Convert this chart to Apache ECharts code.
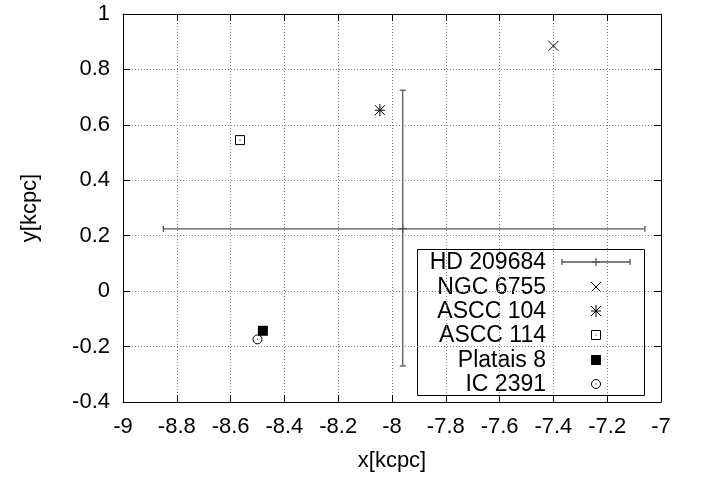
<!DOCTYPE html>
<html><head><meta charset="utf-8">
<script src="https://cdn.jsdelivr.net/npm/echarts@6/dist/echarts.min.js"></script>
<style>html,body{margin:0;padding:0;background:#fff}#c{width:702px;height:478px}</style>
</head><body><div id="c"></div>
<script>
// ---- data ----
const xTickLabels = ['-9','-8.8','-8.6','-8.4','-8.2','-8','-7.8','-7.6','-7.4','-7.2','-7'];
const yTickLabels = ['-0.4','-0.2','0','0.2','0.4','0.6','0.8','1'];
const seriesNames = ['HD 209684','NGC 6755','ASCC 104','ASCC 114','Platais 8','IC 2391'];
const hd209684 = [[-7.96, 0.225, -8.85, -7.06, -0.27, 0.725]]; // x, y, xlow, xhigh, ylow, yhigh
const ngc6755 = [[-7.40, 0.885]];
const ascc104 = [[-8.045, 0.653]];
const ascc114 = [[-8.565, 0.545]];
const platais8 = [[-8.48, -0.143]];
const ic2391 = [[-8.50, -0.174]];
const markerTypes = ['errorbar','cross','star','boxdot','filledbox','circledot'];

const FONT = 'Liberation Sans, Arial, sans-serif';
const INK = '#000';
const EB = '#555';

function line(x1,y1,x2,y2,color,w){
  return {type:'line', shape:{x1,y1,x2,y2}, style:{stroke:color||INK, lineWidth:w||1}};
}
function markerShapes(type, cx, cy){
  const s = 5;
  switch(type){
    case 'cross': return [line(cx-s,cy-s,cx+s,cy+s), line(cx-s,cy+s,cx+s,cy-s)];
    case 'star': return [line(cx-s,cy-s,cx+s,cy+s), line(cx-s,cy+s,cx+s,cy-s),
                         line(cx,cy-s-1,cx,cy+s+1), line(cx-s,cy,cx+s,cy)];
    case 'boxdot': return [{type:'rect', shape:{x:cx-4.5,y:cy-4.5,width:9,height:9}, style:{fill:null, stroke:INK, lineWidth:1}},
                           {type:'rect', shape:{x:cx-0.5,y:cy-0.5,width:1,height:1}, style:{fill:INK}}];
    case 'filledbox': return [{type:'rect', shape:{x:cx-5,y:cy-5,width:10,height:10}, style:{fill:INK}}];
    case 'circledot': return [{type:'circle', shape:{cx,cy,r:4.5}, style:{fill:null, stroke:INK, lineWidth:1}},
                              {type:'rect', shape:{x:cx-0.5,y:cy-0.5,width:1,height:1}, style:{fill:INK}}];
  }
  return [];
}
function markerSeries(name, data, type){
  return {
    name, type:'custom', data, xAxisIndex:0, yAxisIndex:0, z:5,
    renderItem(params, api){
      const p = api.coord([api.value(0), api.value(1)]);
      return {type:'group', children: markerShapes(type, p[0], p[1])};
    }
  };
}

const errSeries = {
  name: seriesNames[0], type:'custom', data: hd209684, z:4,
  renderItem(params, api){
    const c = api.coord([api.value(0), api.value(1)]);
    const xl = api.coord([api.value(2), api.value(1)]);
    const xh = api.coord([api.value(3), api.value(1)]);
    const yl = api.coord([api.value(0), api.value(4)]);
    const yh = api.coord([api.value(0), api.value(5)]);
    const cap = 3, w = 1.3;
    return {type:'group', children:[
      line(xl[0],c[1],xh[0],c[1],EB,w),
      line(xl[0],c[1]-cap,xl[0],c[1]+cap,EB,w),
      line(xh[0],c[1]-cap,xh[0],c[1]+cap,EB,w),
      line(c[0],yl[1],c[0],yh[1],EB,w),
      line(c[0]-cap,yl[1],c[0]+cap,yl[1],EB,w),
      line(c[0]-cap,yh[1],c[0]+cap,yh[1],EB,w),
      line(c[0]-4,c[1],c[0]+4,c[1],EB,w),
      line(c[0],c[1]-4,c[0],c[1]+4,EB,w)
    ]};
  }
};

// legend (drawn as graphic)
const LG = {x:417, y:249, w:227, h:146, textRight:546, iconX:596, row0:262.3, dy:24.3};
const legendChildren = [{type:'rect', shape:{x:LG.x+0.5,y:LG.y+0.5,width:LG.w,height:LG.h}, style:{fill:'#fff', stroke:INK, lineWidth:1}}];
seriesNames.forEach((n,i)=>{
  const cy = Math.round(LG.row0 + i*LG.dy);
  legendChildren.push({type:'text', style:{text:n, x:LG.textRight, y:cy+1, align:'right', verticalAlign:'middle', font:'23px '+FONT, fill:INK}});
  if(markerTypes[i]==='errorbar'){
    const x1=562, x2=630, cx=LG.iconX;
    legendChildren.push(line(x1,cy,x2,cy,EB,1.3), line(x1,cy-3,x1,cy+3,EB,1.3), line(x2,cy-3,x2,cy+3,EB,1.3),
      line(cx-4,cy,cx+4,cy,EB,1.3), line(cx,cy-4,cx,cy+4,EB,1.3));
  } else {
    markerShapes(markerTypes[i], LG.iconX, cy).forEach(s=>legendChildren.push(s));
  }
});

const xVals = xTickLabels.map(Number), yVals = yTickLabels.map(Number);
const gridLine = {show:true, lineStyle:{color:'#888', type:[1,2], width:1}};
const axisCommon = {
  type:'value', axisLine:{show:true, onZero:false, lineStyle:{color:INK, width:1}},
  axisTick:{show:true, inside:true, length:7, lineStyle:{color:INK}},
};
const chart = echarts.init(document.getElementById('c'), null, {renderer:'canvas'});
chart.setOption({
  animation:false,
  grid:{left:123, right:41, top:14, bottom:76, containLabel:false, outerBoundsMode:'none'},
  xAxis:[
    Object.assign({}, axisCommon, {min:xVals[0], max:xVals[xVals.length-1], interval:0.2, position:'bottom',
      splitLine:gridLine,
      axisLabel:{fontSize:22, fontFamily:FONT, color:INK, margin:14, formatter:v=>xTickLabels[Math.round((v-xVals[0])/0.2)] ?? ''},
      name:'x[kcpc]', nameLocation:'middle', nameGap:48, nameTextStyle:{fontSize:22, fontFamily:FONT, color:INK}}),
    Object.assign({}, axisCommon, {min:xVals[0], max:xVals[xVals.length-1], interval:0.2, position:'top',
      splitLine:{show:false}, axisLabel:{show:false}})
  ],
  yAxis:[
    Object.assign({}, axisCommon, {min:yVals[0], max:yVals[yVals.length-1], interval:0.2, position:'left',
      splitLine:gridLine,
      axisLabel:{fontSize:22, fontFamily:FONT, color:INK, margin:13, formatter:v=>yTickLabels[Math.round((v-yVals[0])/0.2)] ?? ''},
      name:'y[kcpc]', nameLocation:'middle', nameGap:82, nameRotate:90, nameTextStyle:{fontSize:22, fontFamily:FONT, color:INK}}),
    Object.assign({}, axisCommon, {min:yVals[0], max:yVals[yVals.length-1], interval:0.2, position:'right',
      splitLine:{show:false}, axisLabel:{show:false}})
  ],
  series:[
    errSeries,
    markerSeries(seriesNames[1], ngc6755, 'cross'),
    markerSeries(seriesNames[2], ascc104, 'star'),
    markerSeries(seriesNames[3], ascc114, 'boxdot'),
    markerSeries(seriesNames[4], platais8, 'filledbox'),
    markerSeries(seriesNames[5], ic2391, 'circledot')
  ],
  graphic:[{type:'group', z:100, children: legendChildren}]
});
</script></body></html>
